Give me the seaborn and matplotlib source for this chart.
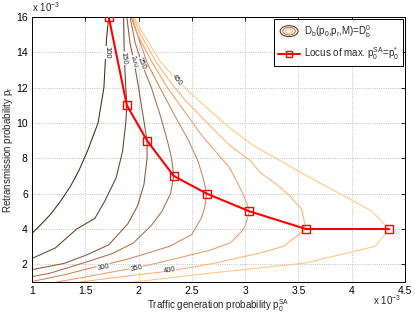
import numpy as np
import pandas as pd
import seaborn as sns
import matplotlib.pyplot as plt
from matplotlib.patches import Ellipse
from matplotlib.lines import Line2D
from matplotlib.legend_handler import HandlerBase

# contour levels of D_b(p0, pr, M) = D_b^0 (x in 1e-3, y in 1e-3)
levels = [100, 150, 200, 250, 300, 350, 400, 450]

c100_x = [1.72, 1.70, 1.675, 1.62, 1.52, 1.44, 1.36, 1.26, 1.17, 1.06, 1.0]
c100_y = [16, 14.8, 12, 10, 8.4, 7.3, 6.4, 5.5, 4.8, 4.1, 3.75]

c150_x = [1.86, 1.865, 1.88, 1.89, 1.88, 1.85, 1.79, 1.685, 1.59, 1.42, 1.22, 1.0]
c150_y = [16, 14, 12, 11, 10, 8.4, 6.9, 5.6, 4.6, 4.0, 2.93, 2.33]

c200_x = [1.89, 1.92, 1.96, 2.0, 2.04, 2.08, 2.08, 2.05, 1.99, 1.90, 1.72, 1.50, 1.30, 1.0]
c200_y = [16, 14.5, 13.4, 12, 10.5, 9, 8, 6.5, 5.3, 4.3, 3.1, 2.5, 2.05, 1.7]

c250_x = [1.92, 1.97, 2.03, 2.12, 2.2, 2.27, 2.31, 2.33, 2.30, 2.22, 2.12, 1.95, 1.75, 1.53, 1.17, 1.0]
c250_y = [16, 14.5, 13.36, 12, 10.5, 9, 8, 7, 6, 5, 4.2, 3.2, 2.6, 2.17, 1.5, 1.3]

c300_x = [1.93, 1.99, 2.08, 2.2, 2.35, 2.47, 2.56, 2.61, 2.64, 2.62, 2.59, 2.50, 2.29, 2.01, 1.87, 1.61, 1.3, 1.0]
c300_y = [16, 15, 13.4, 12, 10.3, 9, 7.8, 6.8, 6, 5.2, 4.63, 3.69, 3.02, 2.5, 2.25, 1.88, 1.4, 1.03]

c350_x = [1.94, 1.99, 2.13, 2.27, 2.45, 2.58, 2.72, 2.85, 2.93, 3.0, 3.04, 3.0, 2.97, 2.86, 2.67, 2.3, 1.98, 1.87, 1.5, 1.23]
c350_y = [16, 15, 13.4, 12, 10.5, 9.4, 8.4, 7.5, 6.6, 5.7, 5, 4.16, 3.88, 3.21, 2.8, 2.25, 1.8, 1.70, 1.28, 1.0]

c400_x = [1.95, 2.01, 2.17, 2.3, 2.45, 2.58, 2.67, 2.86, 3.05, 3.14, 3.3, 3.42, 3.53, 3.57, 3.36, 3.14, 2.7, 2.29, 1.87, 1.45]
c400_y = [16, 15.1, 13.4, 12.3, 11.2, 10.4, 9.85, 8.71, 7.86, 7.2, 6.5, 5.87, 5.11, 4.0, 3.02, 2.64, 2.05, 1.62, 1.32, 1.0]

c450_x = [1.96, 2.03, 2.2, 2.36, 2.58, 2.86, 3.08, 3.33, 3.58, 3.87, 4.19, 4.35, 4.22, 3.56, 2.67, 1.95]
c450_y = [16, 15.2, 13.5, 12.4, 11.18, 9.7, 8.71, 7.86, 7.0, 6.06, 5.0, 4.0, 3.02, 2.07, 1.5, 1.0]

# locus of max p0^SA
locus_x = [1.72, 1.89, 2.08, 2.33, 2.64, 3.04, 3.57, 4.35]
locus_y = [16, 11, 9, 7, 6, 5, 4, 4]

# inline contour labels
lab_text = ["100", "150", "200", "250", "450", "300", "350", "400"]
lab_x = [1.70, 1.856, 1.957, 2.03, 2.36, 1.67, 1.98, 2.29]
lab_y = [14.0, 13.65, 13.46, 13.36, 12.4, 1.83, 1.75, 1.64]
lab_rot = [-90, -85, -75, -68, -52, 10, 10, 10]

contours = [(c100_x, c100_y), (c150_x, c150_y), (c200_x, c200_y), (c250_x, c250_y),
            (c300_x, c300_y), (c350_x, c350_y), (c400_x, c400_y), (c450_x, c450_y)]
rows = []
for lvl, (cx, cy) in zip(levels, contours):
    for i, (a, b) in enumerate(zip(cx, cy)):
        rows.append({"x": a, "y": b, "level": lvl, "idx": i})
df = pd.DataFrame(rows)
locus = pd.DataFrame({"x": locus_x, "y": locus_y})

cmap = plt.get_cmap("copper")
pal = {lvl: cmap(0.2 + 0.8 * (lvl - 100) / 350) for lvl in levels}

sns.set_style("white")
plt.rcParams["font.family"] = ["Liberation Sans", "DejaVu Sans"]
plt.rcParams["mathtext.default"] = "regular"

fig = plt.figure(figsize=(4.15, 3.13), dpi=100)
ax = fig.add_axes([0.077, 0.099, 0.899, 0.847])

sns.lineplot(data=df, x="x", y="y", hue="level", palette=pal, units="level",
             estimator=None, sort=False, legend=False, linewidth=0.75, ax=ax, zorder=2)

for t, x, y, r in zip(lab_text, lab_x, lab_y, lab_rot):
    ax.text(x, y, t, fontsize=5.5, rotation=r, ha="center", va="center", zorder=3,
            bbox=dict(facecolor="white", edgecolor="none", pad=0.3))

sns.lineplot(data=locus, x="x", y="y", color="red", linewidth=1.5, marker="s",
             markersize=5.5, markerfacecolor="none", markeredgecolor="red",
             markeredgewidth=1.0, sort=False, estimator=None, ax=ax, zorder=4)

ax.set_xlim(1, 4.5)
ax.set_ylim(1, 16)
ax.set_xticks([1, 1.5, 2, 2.5, 3, 3.5, 4, 4.5])
ax.set_xticklabels(["1", "1.5", "2", "2.5", "3", "3.5", "4", "4.5"])
ax.set_yticks([2, 4, 6, 8, 10, 12, 14, 16])
ax.tick_params(direction="in", length=3, width=0.6, labelsize=7.5, top=True, right=True,
               pad=3, colors="black")
ax.grid(True, linestyle=":", color="#b0b0b0", linewidth=0.6)
for s in ax.spines.values():
    s.set_color("black")
    s.set_linewidth(0.7)

ax.set_xlabel("Traffic generation probability p$_0^{SA}$", fontsize=7, labelpad=1)
ax.set_ylabel("Retransmission probability p$_r$", fontsize=7, labelpad=1)
ax.text(0.0, 1.01, "x 10$^{-3}$", transform=ax.transAxes, fontsize=7, ha="left", va="bottom")
ax.text(0.99, -0.085, "x 10$^{-3}$", transform=ax.transAxes, fontsize=7, ha="right", va="baseline")


class ContourKey:
    pass


class ContourHandler(HandlerBase):
    def create_artists(self, legend, orig_handle, xdescent, ydescent, width, height, fontsize, trans):
        cx = width / 2 - xdescent
        cy = height / 2 - ydescent
        arts = []
        for s, lvl in zip([1.0, 0.7, 0.4], [100, 250, 400]):
            arts.append(Ellipse((cx, cy), width * 0.8 * s, height * 1.6 * s, fill=False,
                                edgecolor=pal[lvl], lw=0.7, transform=trans))
        return arts


locus_handle = Line2D([], [], color="red", lw=1.5, marker="s", markersize=5,
                      markerfacecolor="none", markeredgecolor="red")
leg = ax.legend([ContourKey(), locus_handle],
                ["D$_b$(p$_0$,p$_r$,M)=D$_b^0$", "Locus of max. p$_0^{SA}$=p$_0^{*}$"],
                handler_map={ContourKey: ContourHandler()}, loc="upper right",
                fontsize=7, fancybox=False, framealpha=1, edgecolor="black",
                handlelength=2.3, borderaxespad=0.25, labelspacing=0.6, handletextpad=0.4,
                borderpad=0.35)
leg.get_frame().set_linewidth(0.7)
leg.set_zorder(5)

fig.savefig("out.png", dpi=100)
